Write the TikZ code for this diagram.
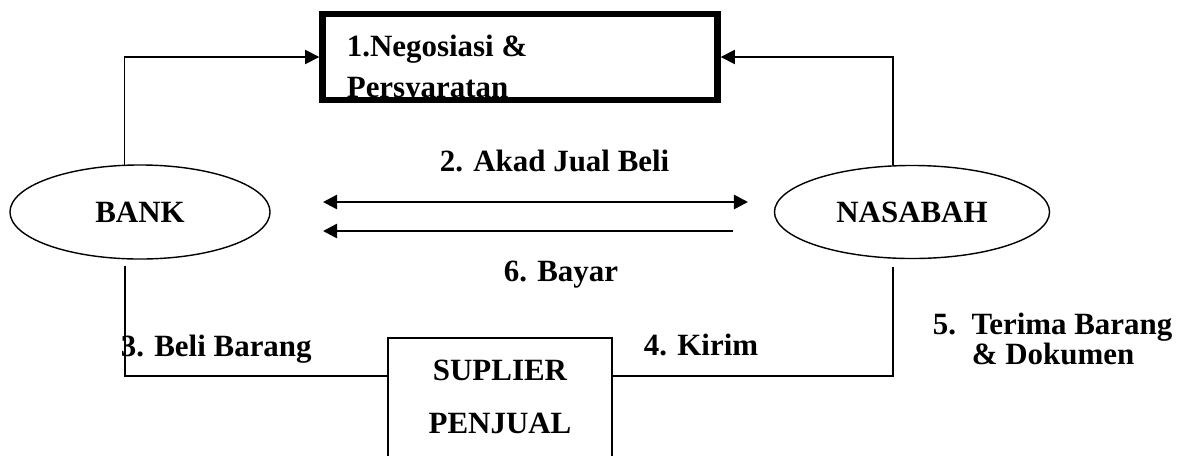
\documentclass[tikz,border=0pt]{standalone}
\usepackage{fontspec}
\setmainfont{Liberation Serif}
\usepackage{tikz}
\usetikzlibrary{arrows.meta, shapes.geometric, calc}
\tikzset{
	lbl/.style={font=\fontsize{22}{26}\selectfont\bfseries, inner sep=0pt, anchor=base west},
	oval/.style={draw, ellipse, line width=1pt, inner sep=0pt, font=\fontsize{22}{26}\selectfont\bfseries},
	arr/.style={-{Triangle[length=10pt,width=10pt]}},
	dblarr/.style={{Triangle[length=10pt,width=10pt]}-{Triangle[length=10pt,width=10pt]}},
}

\begin{document}
\begin{tikzpicture}[x=0.025cm, y=-0.025cm, line width=1.2pt]
	\useasboundingbox (0,0) rectangle (1196,455);
	\clip (0,0) rectangle (1196,455);
	\coordinate (akadL) at (323,202);
	\coordinate (akadR) at (748,202);
	\coordinate (bayarR) at (733,231);
	\coordinate (bayarL) at (323,231);
	\coordinate (bankbot) at (125,266);
	\coordinate (nasbot) at (893,267);

	\node[draw, line width=4.5pt, minimum width=9.875cm, minimum height=2.1625cm, inner sep=0pt] (nego) at (520,57) {};
	\begin{scope}
		\clip (326,17) rectangle (714,97);
		\node[lbl] (nego1) at (346,56) {1.Negosiasi \&};
		\node[lbl] (nego2) at (346,97) {Persyaratan};
	\end{scope}
	\node[oval, minimum width=6.5cm, minimum height=2.35cm] (bank) at (140,212) {BANK};
	\node[oval, minimum width=6.875cm, minimum height=2.325cm] (nasabah) at (912,212) {NASABAH};
	\node[draw, minimum width=5.6cm, minimum height=3.425cm, inner sep=0pt] (sup) at (500,406.5) {};
	\node[lbl, anchor=base] (sup1) at (500,380) {SUPLIER};
	\node[lbl, anchor=base] (sup2) at (500,433) {PENJUAL};

	\draw[arr] (bank.108) |- (nego.west);
	\draw[arr] (nasabah.112) |- (nego.east);
	\draw[dblarr, line width=1.8pt] (akadL) -- (akadR);
	\draw[arr, line width=1.8pt] (bayarR) -- (bayarL);
	\draw (bankbot) |- (sup.165);
	\draw (sup.15) -| (nasbot);

	\node[lbl] (l2) at (439,171) {2. Akad Jual Beli};
	\node[lbl] (l6) at (503,281) {6. Bayar};
	\node[lbl] (l3) at (120,356) {3. Beli Barang};
	\node[lbl] (l4) at (643,355) {4. Kirim};
	\node[lbl] (l5a) at (932,334) {5.\ \ Terima Barang};
	\node[lbl] (l5b) at (971,364) {\& Dokumen};
\end{tikzpicture}
\end{document}
